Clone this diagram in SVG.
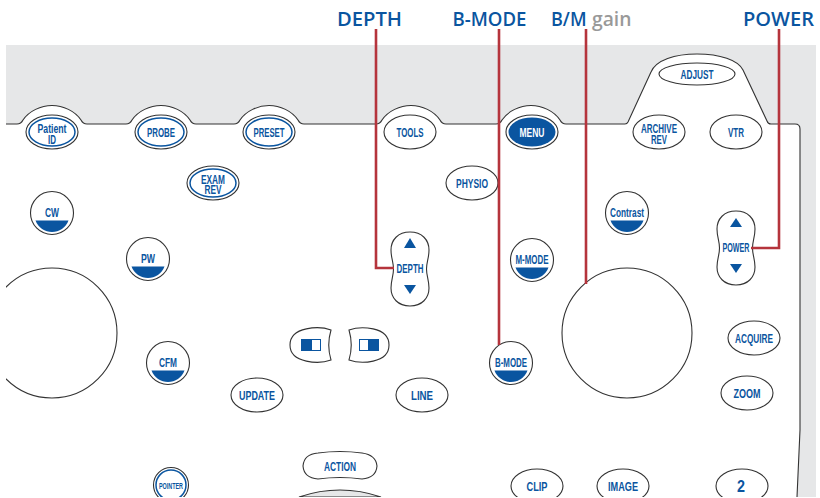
<svg xmlns="http://www.w3.org/2000/svg" width="820" height="498" viewBox="0 0 820 498">
<style>
.o{fill:#fff;stroke:#333;stroke-width:1.1}
.in{fill:none;stroke:#0a55a0;stroke-width:1.5}
.b{fill:#0a55a0}
.t{font-family:"Liberation Sans Narrow","Liberation Sans",sans-serif;font-weight:700;font-size:12.500px;fill:#0a55a0;text-anchor:middle}
.h{font-family:"Open Sans","Liberation Sans",sans-serif;font-weight:600;font-size:20.500px;fill:#0a55a0}
.g{fill:#999}
.c{fill:none;stroke:#b5343c;stroke-width:2.6}
</style>
<defs>
<path id="lens" d="M-16.500 7.500H16.500C14 14.500 7 19 0 19S-14 14.500-16.500 7.500Z"/>
<path id="rock" d="M0-37C12-37 19-29 19-19C19-11 16.500-7 16.500 0C16.500 7 19 11 19 19C19 29 12 37 0 37S-19 29-19 19C-19 11-16.500 7-16.500 0C-16.500-7-19-11-19-19C-19-29-12-37 0-37Z"/>
</defs>
<clipPath id="page"><rect x="6" y="0" width="814" height="497"/></clipPath>

<g id="panel">
<rect x="6" y="45" width="810" height="452" fill="#e6e7e8"/>
<path d="M6 124H17q4 0 6-4c6-9 18-14.500 29-14.500s23 5.500 29 14.500q2 4 6 4H126q4 0 6-4c6-9 18-14.500 29-14.500s23 5.500 29 14.500q2 4 6 4H234q4 0 6-4c6-9 18-14.500 29-14.500s23 5.500 29 14.500q2 4 6 4H376q4 0 6-4c6-9 18-14.500 29-14.500s23 5.500 29 14.500q2 4 6 4H496q4 0 6-4c6-9 18-14.500 29-14.500s23 5.500 29 14.500q2 4 6 4H625q2 0 3-2L651 72C656 60 675 54 697 54C720 54 738 60 743 70L767 121q1 3 4 3H795q5 0 5 5V430L797 497H6Z" fill="#fff"/>
<path d="M6 124H17q4 0 6-4c6-9 18-14.500 29-14.500s23 5.500 29 14.500q2 4 6 4H126q4 0 6-4c6-9 18-14.500 29-14.500s23 5.500 29 14.500q2 4 6 4H234q4 0 6-4c6-9 18-14.500 29-14.500s23 5.500 29 14.500q2 4 6 4H376q4 0 6-4c6-9 18-14.500 29-14.500s23 5.500 29 14.500q2 4 6 4H496q4 0 6-4c6-9 18-14.500 29-14.500s23 5.500 29 14.500q2 4 6 4H625q2 0 3-2L651 72C656 60 675 54 697 54C720 54 738 60 743 70L767 121q1 3 4 3H795q5 0 5 5V430L797 497" fill="none" stroke="#333" stroke-width="1.100"/>
</g>

<g id="node-patient-id"><ellipse class="o" cx="52" cy="132" rx="26" ry="17"/><ellipse class="in" cx="52" cy="132" rx="23" ry="14"/><text class="t"><tspan x="52" y="133" textLength="29" lengthAdjust="spacingAndGlyphs">Patient</tspan><tspan x="52" y="144" textLength="8" lengthAdjust="spacingAndGlyphs">ID</tspan></text></g>
<g id="node-probe"><ellipse class="o" cx="161" cy="132" rx="26" ry="17"/><ellipse class="in" cx="161" cy="132" rx="23" ry="14"/><text class="t" x="161" y="136.500" textLength="28" lengthAdjust="spacingAndGlyphs">PROBE</text></g>
<g id="node-preset"><ellipse class="o" cx="269" cy="132" rx="26" ry="17"/><ellipse class="in" cx="269" cy="132" rx="23" ry="14"/><text class="t" x="269" y="136.500" textLength="31" lengthAdjust="spacingAndGlyphs">PRESET</text></g>
<g id="node-exam-rev"><ellipse class="o" cx="213" cy="183" rx="26" ry="17"/><ellipse class="in" cx="213" cy="183" rx="23" ry="14"/><text class="t"><tspan x="213" y="184" textLength="24" lengthAdjust="spacingAndGlyphs">EXAM</tspan><tspan x="213" y="194" textLength="17" lengthAdjust="spacingAndGlyphs">REV</tspan></text></g>
<g id="node-tools"><ellipse class="o" cx="410" cy="132" rx="26" ry="17"/><text class="t" x="410" y="136.500" textLength="27" lengthAdjust="spacingAndGlyphs">TOOLS</text></g>
<g id="node-menu"><ellipse class="o" cx="532" cy="132" rx="26" ry="17"/><ellipse cx="532" cy="132" rx="23.500" ry="14.500" fill="#0a55a0"/><text class="t" x="532" y="136.500" textLength="25" lengthAdjust="spacingAndGlyphs" style="fill:#fff">MENU</text></g>
<g id="node-physio"><ellipse class="o" cx="472" cy="183" rx="26" ry="17"/><text class="t" x="472" y="187.500" textLength="32" lengthAdjust="spacingAndGlyphs">PHYSIO</text></g>
<g id="node-archive-rev"><ellipse class="o" cx="659" cy="132" rx="26" ry="17"/><text class="t"><tspan x="659" y="133" textLength="36" lengthAdjust="spacingAndGlyphs">ARCHIVE</tspan><tspan x="659" y="144" textLength="16" lengthAdjust="spacingAndGlyphs">REV</tspan></text></g>
<g id="node-vtr"><ellipse class="o" cx="736" cy="132" rx="26" ry="17"/><text class="t" x="736" y="136.500" textLength="16" lengthAdjust="spacingAndGlyphs">VTR</text></g>
<g id="node-adjust"><ellipse class="o" cx="697" cy="74" rx="38" ry="11"/><text class="t" x="697" y="78.500" textLength="33" lengthAdjust="spacingAndGlyphs">ADJUST</text></g>

<g id="node-cw"><circle class="o" cx="52" cy="213" r="21.500"/><use href="#lens" class="b" x="52" y="213"/><text class="t" x="52" y="216.500" textLength="14" lengthAdjust="spacingAndGlyphs">CW</text></g>
<g id="node-pw"><circle class="o" cx="148" cy="259" r="21.500"/><use href="#lens" class="b" x="148" y="259"/><text class="t" x="148" y="262.500" textLength="14" lengthAdjust="spacingAndGlyphs">PW</text></g>
<g id="node-cfm"><circle class="o" cx="168" cy="363" r="21.500"/><use href="#lens" class="b" x="168" y="363"/><text class="t" x="168" y="366.500" textLength="18" lengthAdjust="spacingAndGlyphs">CFM</text></g>
<g id="node-b-mode"><circle class="o" cx="511" cy="363" r="21.500"/><use href="#lens" class="b" x="511" y="363"/><text class="t" x="511" y="366.500" textLength="32" lengthAdjust="spacingAndGlyphs">B-MODE</text></g>
<g id="node-m-mode"><circle class="o" cx="532" cy="260" r="21.500"/><use href="#lens" class="b" x="532" y="260"/><text class="t" x="532" y="263.500" textLength="33" lengthAdjust="spacingAndGlyphs">M-MODE</text></g>
<g id="node-contrast"><circle class="o" cx="627" cy="213" r="21.500"/><use href="#lens" class="b" x="627" y="213"/><text class="t" x="627" y="216.500" textLength="34" lengthAdjust="spacingAndGlyphs">Contrast</text></g>

<g id="node-depth"><use href="#rock" class="o" x="410" y="269"/><path class="b" d="M410 238L416 248H404Z"/><path class="b" d="M410 294L416 285H404Z"/><text class="t" x="410" y="273" textLength="27" lengthAdjust="spacingAndGlyphs">DEPTH</text></g>
<g id="node-power"><use href="#rock" class="o" x="736" y="248"/><path class="b" d="M736 218L742 227H730Z"/><path class="b" d="M736 273L742 264H730Z"/><text class="t" x="736" y="252" textLength="27" lengthAdjust="spacingAndGlyphs">POWER</text></g>

<g id="node-left-dial"><circle class="o" cx="52" cy="333" r="65" clip-path="url(#page)"/></g>
<g id="node-gain-dial"><circle class="o" cx="627" cy="333" r="65"/></g>

<g id="node-left-split"><path class="o" d="M331 330C320 326 290 326 290 345C290 364 320 364 331 360C328 350 328 340 331 330Z"/><rect x="301.500" y="339.500" width="19" height="11" fill="#fff" stroke="#0a55a0"/><rect x="301" y="339" width="11" height="12" class="b"/></g>
<g id="node-right-split"><path class="o" d="M349 330C360 326 389 326 389 345C389 364 360 364 349 360C352 350 352 340 349 330Z"/><rect x="359.500" y="339.500" width="19" height="11" fill="#fff" stroke="#0a55a0"/><rect x="368" y="339" width="11" height="12" class="b"/></g>

<g id="node-update"><ellipse class="o" cx="257" cy="395" rx="26" ry="17"/><text class="t" x="257" y="399.500" textLength="36" lengthAdjust="spacingAndGlyphs">UPDATE</text></g>
<g id="node-line"><ellipse class="o" cx="422" cy="395" rx="26" ry="17"/><text class="t" x="422" y="399.500" textLength="22" lengthAdjust="spacingAndGlyphs">LINE</text></g>
<g id="node-acquire"><ellipse class="o" cx="754" cy="338" rx="26" ry="17"/><text class="t" x="754" y="342.500" textLength="38" lengthAdjust="spacingAndGlyphs">ACQUIRE</text></g>
<g id="node-zoom"><ellipse class="o" cx="747" cy="393" rx="26" ry="17"/><text class="t" x="747" y="397.500" textLength="27" lengthAdjust="spacingAndGlyphs">ZOOM</text></g>
<g id="node-action"><path class="o" d="M303 466Q304 454 318 453Q340 450 362 453Q376 455 377 466Q376 478 362 479Q340 476 318 479Q304 478 303 466Z"/><text class="t" x="340" y="470.500" textLength="32" lengthAdjust="spacingAndGlyphs">ACTION</text></g>

<g clip-path="url(#page)">
<g id="node-pointer"><circle class="o" cx="171" cy="485" r="17.500"/><circle class="in" cx="171" cy="485" r="15"/><text class="t" x="171" y="488.500" textLength="24" lengthAdjust="spacingAndGlyphs" style="font-size:9.500px">POINTER</text></g>
<g id="node-clip"><ellipse class="o" cx="537" cy="486" rx="26" ry="17"/><text class="t" x="537" y="490.500" textLength="21" lengthAdjust="spacingAndGlyphs">CLIP</text></g>
<g id="node-image"><ellipse class="o" cx="623" cy="486" rx="26" ry="17"/><text class="t" x="623" y="490.500" textLength="30" lengthAdjust="spacingAndGlyphs">IMAGE</text></g>
<g id="node-2"><ellipse class="o" cx="742" cy="486" rx="26" ry="17"/><text class="t" x="741" y="492" textLength="8" lengthAdjust="spacingAndGlyphs" style="font-size:17px">2</text></g>
<g id="node-trackball"><path d="M299 497Q340 483 381 497Z" fill="#e6e7e8" stroke="#333" stroke-width="1.100"/></g>
</g>

<g id="connectors">
<path class="c" d="M376 29V268H394"/>
<path class="c" d="M499 29V345"/>
<path class="c" d="M586 29V284"/>
<path class="c" d="M779 29V248H751"/>
</g>

<g id="labels">
<text class="h" x="337" y="26" textLength="65" lengthAdjust="spacingAndGlyphs">DEPTH</text>
<text class="h" x="452.500" y="26" textLength="74" lengthAdjust="spacingAndGlyphs">B-MODE</text>
<text class="h" x="551" y="26" textLength="35.500" lengthAdjust="spacingAndGlyphs">B/M</text>
<text class="h g" x="592" y="26" textLength="39.500" lengthAdjust="spacingAndGlyphs">gain</text>
<text class="h" x="743" y="26" textLength="71" lengthAdjust="spacingAndGlyphs">POWER</text>
</g>
</svg>
